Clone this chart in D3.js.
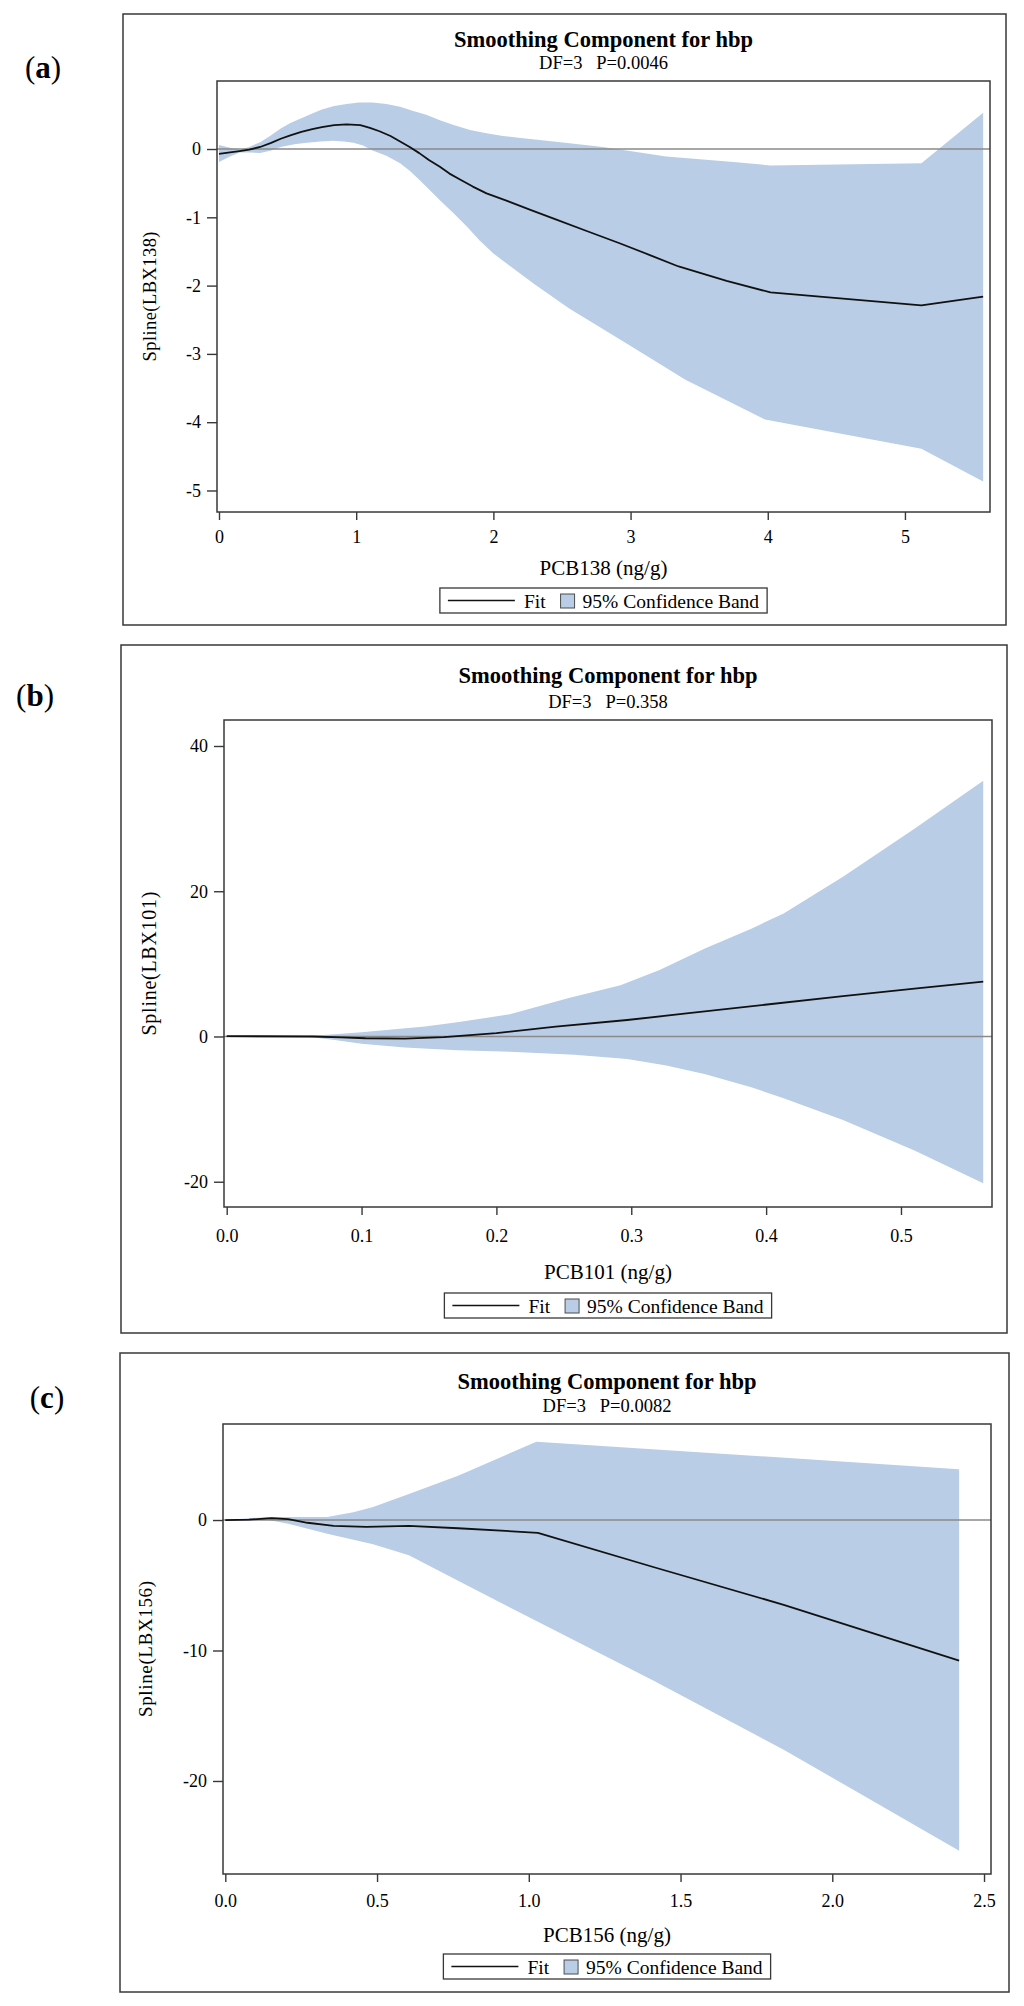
<!DOCTYPE html>
<html lang="en">
<head>
<meta charset="utf-8">
<title>Smoothing Component for hbp</title>
<script src="https://d3js.org/d3.v7.min.js"></script>
<style>
    body { margin: 0; background: #fff; }
    text { font-family: "Liberation Serif", "Times New Roman", serif; fill: #000; }
</style>
</head>
<body>
<script type="text/javascript">
    var w = 1024;
    var h = 2006;

    // texts
    var panelTags = ["a", "b", "c"];
    var titleText = "Smoothing Component for hbp";
    var subTitles = ["DF=3   P=0.0046", "DF=3   P=0.358", "DF=3   P=0.0082"];
    var xTitles = ["PCB138 (ng/g)", "PCB101 (ng/g)", "PCB156 (ng/g)"];
    var yTitles = ["Spline(LBX138)", "Spline(LBX101)", "Spline(LBX156)"];
    var legendNames = ["Fit", "95% Confidence Band"];

    // tick values
    var xTicksA = [0, 1, 2, 3, 4, 5];
    var yTicksA = [-5, -4, -3, -2, -1, 0];
    var xTicksB = [0, 0.1, 0.2, 0.3, 0.4, 0.5];
    var yTicksB = [-20, 0, 20, 40];
    var xTicksC = [0, 0.5, 1, 1.5, 2, 2.5];
    var yTicksC = [-20, -10, 0];

    // (a) PCB138
    var fitA = [[0, -0.07], [0.08, -0.05], [0.15, -0.03], [0.22, -0.01], [0.3, 0.03], [0.38, 0.09], [0.45, 0.15],
        [0.52, 0.2], [0.6, 0.25], [0.68, 0.29], [0.75, 0.32], [0.84, 0.35], [0.93, 0.36], [1.03, 0.35],
        [1.1, 0.31], [1.17, 0.26], [1.25, 0.19], [1.32, 0.11], [1.39, 0.03], [1.46, -0.06], [1.53, -0.16],
        [1.61, -0.26], [1.68, -0.36], [1.76, -0.45], [1.85, -0.55], [1.95, -0.65], [2.1, -0.76], [2.27, -0.89],
        [2.44, -1.02], [2.68, -1.2], [2.92, -1.38], [3.15, -1.56], [3.35, -1.72], [3.7, -1.93], [4.02, -2.10],
        [5.12, -2.29], [5.57, -2.16]];
    var upperA = [[0, 0.06], [0.08, 0.02], [0.15, -0.01], [0.22, 0.03], [0.3, 0.1], [0.38, 0.2], [0.45, 0.3],
        [0.52, 0.38], [0.6, 0.45], [0.68, 0.52], [0.75, 0.58], [0.84, 0.63], [0.93, 0.66], [1.02, 0.68],
        [1.12, 0.68], [1.22, 0.66], [1.32, 0.62], [1.41, 0.56], [1.51, 0.5], [1.61, 0.42], [1.71, 0.35],
        [1.83, 0.28], [1.95, 0.23], [2.07, 0.19], [2.2, 0.16], [2.44, 0.11], [2.8, 0.03], [3.26, -0.11],
        [3.75, -0.19], [4.02, -0.24], [5.12, -0.21], [5.57, 0.53]];
    var lowerA = [[0, -0.19], [0.08, -0.11], [0.15, -0.05], [0.22, -0.05], [0.3, -0.06], [0.38, -0.02],
        [0.45, 0.03], [0.55, 0.07], [0.64, 0.09], [0.74, 0.11], [0.83, 0.12], [0.91, 0.11], [0.98, 0.09],
        [1.05, 0.05], [1.12, -0.02], [1.22, -0.1], [1.32, -0.21], [1.39, -0.32], [1.46, -0.45], [1.53, -0.59],
        [1.61, -0.75], [1.71, -0.94], [1.81, -1.14], [1.9, -1.34], [2.0, -1.53], [2.3, -1.98], [2.55, -2.33],
        [2.98, -2.86], [3.4, -3.38], [3.98, -3.96], [5.12, -4.39], [5.57, -4.87]];

    // (b) PCB101
    var fitB = [[0, 0.05], [0.064, 0], [0.085, -0.12], [0.103, -0.24], [0.132, -0.3], [0.161, -0.1], [0.2, 0.45],
        [0.244, 1.37], [0.297, 2.27], [0.341, 3.17], [0.399, 4.37], [0.457, 5.57], [0.51, 6.6], [0.561, 7.54]];
    var upperB = [[0, 0.05], [0.06, 0.08], [0.08, 0.3], [0.1, 0.6], [0.147, 1.37], [0.171, 1.97], [0.21, 3.05],
        [0.253, 5.27], [0.292, 7.07], [0.321, 9.16], [0.355, 12.16], [0.389, 14.85], [0.413, 16.95],
        [0.457, 22.0], [0.51, 28.6], [0.561, 35.2]];
    var lowerB = [[0, 0.05], [0.06, -0.05], [0.08, -0.5], [0.1, -1.0], [0.132, -1.5], [0.171, -1.9], [0.21, -2.1],
        [0.258, -2.5], [0.297, -3.1], [0.326, -4.0], [0.355, -5.2], [0.389, -7.0], [0.413, -8.5],
        [0.457, -11.5], [0.51, -15.7], [0.561, -20.2]];

    // (c) PCB156
    var fitC = [[0, 0], [0.078, 0.03], [0.153, 0.14], [0.207, 0.07], [0.271, -0.21], [0.357, -0.45], [0.465, -0.52],
        [0.605, -0.45], [0.767, -0.63], [1.03, -0.98], [1.41, -3.6], [1.84, -6.5], [2.418, -10.77]];
    var upperC = [[0, 0], [0.142, 0.24], [0.207, 0.24], [0.336, 0.24], [0.422, 0.6], [0.487, 1.0], [0.605, 2.0],
        [0.767, 3.4], [1.025, 6.0], [2.418, 3.9]];
    var lowerC = [[0, 0], [0.142, 0], [0.207, -0.28], [0.336, -1.05], [0.487, -1.85], [0.605, -2.7], [0.767, -4.65],
        [1.03, -7.8], [1.41, -12.3], [1.84, -17.6], [2.418, -25.35]];

    var bandColor = "#b9cde6";
    var frameColor = "#383838";

    var fmtInt = function (d) { return String(d); };
    var fmtOne = function (d) { return d.toFixed(1); };

    // layout of the three panels
    var panels = [
        { tag: panelTags[0], sub: subTitles[0], xt: xTitles[0], yt: yTitles[0], fit: fitA, upper: upperA, lower: lowerA,
          xTicks: xTicksA, yTicks: yTicksA, xFmt: fmtInt, yFmt: fmtInt,
          box: [123, 14, 1006, 625], plot: [217, 81, 990, 512], xDom: [-0.0146, 5.62], yDom: [-5.315, 0.996],
          tagPos: [43, 78], titleY: 47, subY: 69, xPad: 10, xLabY: 575, legY: 588, yLabX: 150, yLabLen: 130, yLabSize: 18.5 },
        { tag: panelTags[1], sub: subTitles[1], xt: xTitles[1], yt: yTitles[1], fit: fitB, upper: upperB, lower: lowerB,
          xTicks: xTicksB, yTicks: yTicksB, xFmt: fmtOne, yFmt: fmtInt,
          box: [121, 645, 1007, 1333], plot: [224, 720, 992, 1207], xDom: [-0.002, 0.5675], yDom: [-23.48, 43.58],
          tagPos: [35, 706], titleY: 683, subY: 708, xPad: 14, xLabY: 1279, legY: 1293, yLabX: 149, yLabLen: 144, yLabSize: 20 },
        { tag: panelTags[2], sub: subTitles[2], xt: xTitles[2], yt: yTitles[2], fit: fitC, upper: upperC, lower: lowerC,
          xTicks: xTicksC, yTicks: yTicksC, xFmt: fmtOne, yFmt: fmtInt,
          box: [120, 1353, 1009, 1992], plot: [223, 1424, 991, 1874], xDom: [-0.0076, 2.523], yDom: [-27.13, 7.36],
          tagPos: [47, 1408], titleY: 1389, subY: 1412, xPad: 12, xLabY: 1942, legY: 1954, yLabX: 145, yLabLen: 136, yLabSize: 19 }
    ];

    var svg = d3.select("body").append("svg").attr("width", w).attr("height", h);

    function drawPanel(p) {
        var g = svg.append("g");
        var cx = (p.plot[0] + p.plot[2]) / 2;

        // outer border
        g.append("rect")
            .attr("x", p.box[0]).attr("y", p.box[1])
            .attr("width", p.box[2] - p.box[0]).attr("height", p.box[3] - p.box[1])
            .attr("fill", "none").attr("stroke", frameColor).attr("stroke-width", 1.5);

        // panel tag like (a)
        var tag = g.append("text").attr("x", p.tagPos[0]).attr("y", p.tagPos[1])
            .attr("text-anchor", "middle").style("font-size", "31px");
        tag.append("tspan").text("(");
        tag.append("tspan").style("font-weight", "bold").text(p.tag);
        tag.append("tspan").text(")");

        g.append("text").attr("x", cx).attr("y", p.titleY).attr("text-anchor", "middle")
            .style("font-size", "22.5px").style("font-weight", "bold").text(titleText);
        g.append("text").attr("x", cx).attr("y", p.subY).attr("text-anchor", "middle")
            .style("font-size", "18.5px").style("white-space", "pre").text(p.sub);

        var x = d3.scaleLinear().domain(p.xDom).range([p.plot[0], p.plot[2]]);
        var y = d3.scaleLinear().domain(p.yDom).range([p.plot[3], p.plot[1]]);

        var line = d3.line().x(d => x(d[0])).y(d => y(d[1]));

        // confidence band: upper edge then lower edge backwards
        var bandD = line(p.upper.concat(p.lower.slice().reverse())) + "Z";
        g.append("path").attr("d", bandD).attr("fill", bandColor).attr("stroke", "none");

        // reference line at 0
        g.append("line")
            .attr("x1", p.plot[0]).attr("x2", p.plot[2])
            .attr("y1", y(0)).attr("y2", y(0))
            .attr("stroke", "#8a8a8a").attr("stroke-width", 1.5);

        g.append("path").attr("d", line(p.fit))
            .attr("fill", "none").attr("stroke", "#111").attr("stroke-width", 1.8)
            .attr("stroke-linejoin", "round");

        // wall frame
        g.append("rect")
            .attr("x", p.plot[0]).attr("y", p.plot[1])
            .attr("width", p.plot[2] - p.plot[0]).attr("height", p.plot[3] - p.plot[1])
            .attr("fill", "none").attr("stroke", frameColor).attr("stroke-width", 1.5);

        var xAxis = g.append("g").attr("transform", "translate(0," + p.plot[3] + ")")
            .call(d3.axisBottom(x).tickValues(p.xTicks).tickFormat(p.xFmt)
                .tickSize(8).tickPadding(p.xPad).tickSizeOuter(0));
        var yAxis = g.append("g").attr("transform", "translate(" + p.plot[0] + ",0)")
            .call(d3.axisLeft(y).tickValues(p.yTicks).tickFormat(p.yFmt)
                .tickSize(10).tickPadding(6).tickSizeOuter(0));
        [xAxis, yAxis].forEach(function (a) {
            a.select(".domain").remove();
            a.attr("font-size", 18).attr("font-family", null);
            a.selectAll(".tick line").attr("stroke", frameColor).attr("stroke-width", 1.4);
            a.selectAll(".tick text").attr("fill", "#000");
        });

        g.append("text").attr("x", cx).attr("y", p.xLabY).attr("text-anchor", "middle")
            .style("font-size", "21px").text(p.xt);

        var cy = (p.plot[1] + p.plot[3]) / 2;
        g.append("text")
            .attr("transform", "translate(" + p.yLabX + "," + cy + ") rotate(-90)")
            .attr("text-anchor", "middle").attr("dy", "0.35em")
            .attr("textLength", p.yLabLen).attr("lengthAdjust", "spacing")
            .style("font-size", p.yLabSize + "px").text(p.yt);

        // legend
        var leg = g.append("g");
        var boxR = leg.append("rect").attr("y", 0).attr("height", 25)
            .attr("fill", "#fff").attr("stroke", frameColor).attr("stroke-width", 1.3);
        leg.append("line").attr("x1", 8).attr("x2", 75).attr("y1", 12.5).attr("y2", 12.5)
            .attr("stroke", "#111").attr("stroke-width", 1.5);
        var t1 = leg.append("text").attr("x", 84).attr("y", 19.5).style("font-size", "19.5px").text(legendNames[0]);
        var sx = 84 + t1.node().getComputedTextLength() + 15;
        leg.append("rect").attr("x", sx).attr("y", 6).attr("width", 14).attr("height", 14)
            .attr("fill", bandColor).attr("stroke", "#4d4d4d").attr("stroke-width", 1);
        var t2 = leg.append("text").attr("x", sx + 22).attr("y", 19.5).style("font-size", "19.5px").text(legendNames[1]);
        var lw = sx + 22 + t2.node().getComputedTextLength() + 8;
        boxR.attr("x", 0).attr("width", lw);
        leg.attr("transform", "translate(" + (cx - lw / 2) + "," + p.legY + ")");
    }

    panels.forEach(drawPanel);
</script>
</body>
</html>
